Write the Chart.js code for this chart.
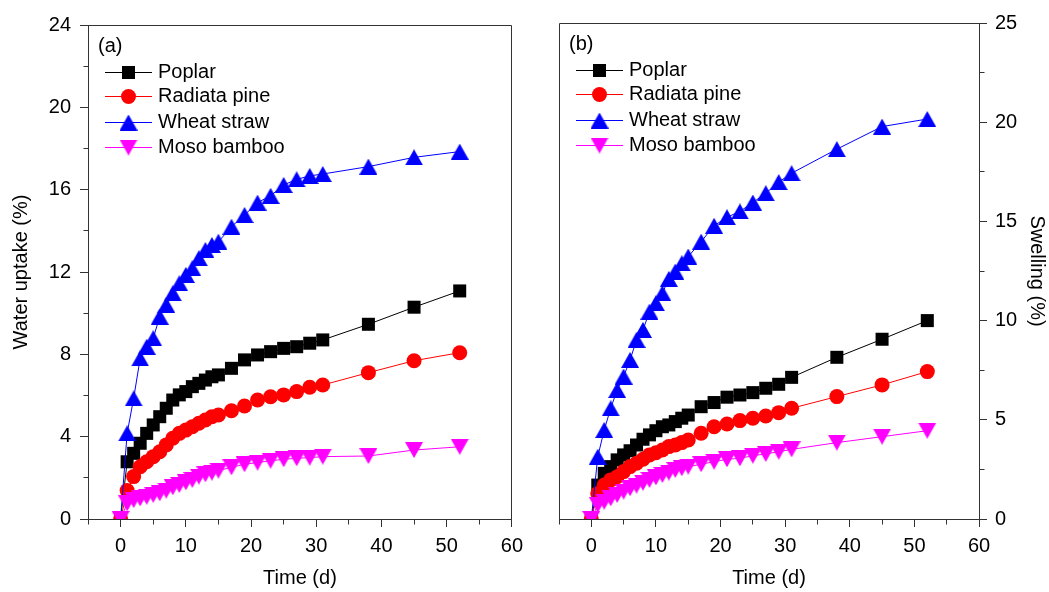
<!DOCTYPE html>
<html><head><meta charset="utf-8">
<script src="https://cdn.jsdelivr.net/npm/chart.js@4.4.1/dist/chart.umd.min.js"></script>
<style>
html,body{margin:0;padding:0;background:#fff;width:1049px;height:592px;overflow:hidden}
canvas{position:absolute;top:0}
#ca{left:0}
#cb{left:530px}
</style></head><body>
<canvas id="ca" width="530" height="592"></canvas>
<canvas id="cb" width="519" height="592"></canvas>
<script>
// ---------- data ----------
const timeDays = [0,1,2,3,4,5,6,7,8,9,10,11,12,13,14,15,17,19,21,23,25,27,29,31,38,45,52];
const seriesNames = ['Poplar','Radiata pine','Wheat straw','Moso bamboo'];

// (a) Water uptake (%)
const uptakePoplar = [0,2.78,3.19,3.68,4.16,4.57,4.97,5.38,5.78,6.03,6.19,6.43,6.59,6.75,6.91,7.0,7.32,7.73,7.97,8.13,8.29,8.37,8.54,8.70,9.46,10.29,11.08];
const uptakeRadiata = [0,1.38,2.06,2.54,2.78,3.03,3.27,3.6,3.92,4.16,4.32,4.48,4.65,4.81,4.97,5.05,5.26,5.49,5.78,5.94,6.03,6.19,6.4,6.51,7.11,7.69,8.08];
const uptakeWheat = [0,4.16,5.86,7.8,8.37,8.78,9.83,10.4,10.97,11.45,11.86,12.18,12.67,13.07,13.31,13.47,14.2,14.77,15.37,15.7,16.23,16.5,16.67,16.76,17.12,17.57,17.85];
const uptakeMoso = [0,0.76,0.92,1.0,1.08,1.17,1.25,1.38,1.54,1.65,1.78,1.9,2.06,2.17,2.25,2.35,2.51,2.66,2.74,2.83,2.9,2.95,2.98,3.03,3.06,3.35,3.51];

// (b) Swelling (%)
const swellPoplar = [0,1.71,2.3,2.64,2.98,3.23,3.44,3.73,4.02,4.24,4.45,4.65,4.74,4.91,5.08,5.24,5.66,5.87,6.14,6.25,6.37,6.59,6.79,7.14,8.15,9.06,10.0];
const swellRadiata = [0,1.29,1.71,1.97,2.13,2.39,2.64,2.81,3.01,3.23,3.34,3.48,3.65,3.73,3.85,3.98,4.32,4.65,4.79,4.96,5.08,5.19,5.36,5.58,6.17,6.76,7.43];
const swellWheat = [0,3.14,4.49,5.58,6.5,7.18,8.02,9.03,9.53,10.45,10.88,11.38,12.1,12.47,12.89,13.23,13.98,14.78,15.21,15.5,15.95,16.42,16.98,17.43,18.64,19.78,20.16];
const swellMoso = [0,0.71,0.87,1.04,1.21,1.38,1.55,1.68,1.83,1.97,2.1,2.22,2.34,2.47,2.56,2.64,2.76,2.89,3.01,3.06,3.19,3.28,3.39,3.51,3.85,4.15,4.45];

// ticks
const xTickValues = [0,10,20,30,40,50,60];
const xMinorTicks = [-5,5,15,25,35,45,55];
const uptakeTicks = [0,4,8,12,16,20,24];
const uptakeMinor = [2,6,10,14,18,22];
const swellTicks = [0,5,10,15,20,25];
const swellMinor = [2.5,7.5,12.5,17.5,22.5];

// ---------- styling ----------
const FONT = {family: '"Liberation Sans", Arial, Helvetica, sans-serif', size: 20};
const AXIS = '#333333';
const COLORS = ['#000000','#ff0000','#0000ff','#ff00ff'];

function triCanvas(color, down) {
  const c = document.createElement('canvas'); c.width = 18; c.height = 16;
  const g = c.getContext('2d'); g.fillStyle = color; g.beginPath();
  if (!down) { g.moveTo(0,16); g.lineTo(9,0); g.lineTo(18,16); }
  else { g.moveTo(0,0); g.lineTo(18,0); g.lineTo(9,16); }
  g.closePath(); g.fill(); return c;
}
const STYLES = [
  {pointStyle: 'rect', radius: 9.2},
  {pointStyle: 'circle', radius: 7.5},
  {pointStyle: triCanvas(COLORS[2], false), radius: 9},
  {pointStyle: triCanvas(COLORS[3], true), radius: 9}
];

function makeDatasets(arrs) {
  return arrs.map((arr, i) => ({
    label: seriesNames[i],
    data: timeDays.map((t, k) => ({x: t, y: arr[k]})),
    borderColor: COLORS[i],
    backgroundColor: COLORS[i],
    borderWidth: 1,
    pointStyle: STYLES[i].pointStyle,
    pointRadius: STYLES[i].radius,
    pointHoverRadius: STYLES[i].radius,
    pointBackgroundColor: COLORS[i],
    pointBorderWidth: 0,
    tension: 0,
    clip: 0,
    order: 4 - i
  }));
}

function align(p) { return Math.round(p - 0.5) + 0.5; }

const framePlugin = {
  id: 'frame',
  afterDraw(chart, args, opts) {
    const {ctx, chartArea: a, scales} = chart;
    const L = align(a.left), R = align(a.right), T = align(a.top), B = align(a.bottom);
    ctx.save();
    ctx.strokeStyle = AXIS; ctx.lineWidth = 1;
    ctx.beginPath();
    ctx.moveTo(L, T); ctx.lineTo(R, T);
    if (opts.side === 'left') { ctx.moveTo(R, T); ctx.lineTo(R, B); }
    else { ctx.moveTo(L, T); ctx.lineTo(L, B); }
    // minor ticks x
    xMinorTicks.forEach(v => {
      const px = align(scales.x.getPixelForValue(v));
      ctx.moveTo(px, B); ctx.lineTo(px, B + 5);
    });
    opts.yMinor.forEach(v => {
      const py = align(scales.y.getPixelForValue(v));
      if (opts.side === 'left') { ctx.moveTo(L - 5, py); ctx.lineTo(L, py); }
      else { ctx.moveTo(R, py); ctx.lineTo(R + 5, py); }
    });
    ctx.stroke();
    ctx.restore();
  }
};

const legendPlugin = {
  id: 'panelLegend',
  afterDraw(chart, args, opts) {
    const {ctx, chartArea: a} = chart;
    ctx.save();
    ctx.font = `${FONT.size}px ${FONT.family}`;
    ctx.textBaseline = 'middle';
    ctx.textAlign = 'left';
    ctx.fillStyle = '#000';
    ctx.fillText(opts.label, a.left + 10, a.top + 21);
    const rows = [46.5, 71, 96.5, 121.5];
    chart.data.datasets.forEach((ds, i) => {
      const y = Math.round(a.top + rows[i]);
      const x0 = a.left + 17, x1 = a.left + 64, xm = a.left + 40.5;
      ctx.strokeStyle = ds.borderColor; ctx.lineWidth = 1;
      ctx.beginPath(); ctx.moveTo(x0, y + 0.5); ctx.lineTo(x1, y + 0.5); ctx.stroke();
      ctx.fillStyle = ds.backgroundColor;
      const ps = ds.pointStyle;
      if (ps === 'rect') { ctx.fillRect(xm - 6.5, y + 0.5 - 6.5, 13, 13); }
      else if (ps === 'circle') { ctx.beginPath(); ctx.arc(xm, y + 0.5, 7.5, 0, Math.PI * 2); ctx.fill(); }
      else { ctx.drawImage(ps, xm - 9, y + 0.5 - 8); }
      ctx.fillStyle = '#000';
      ctx.fillText(ds.label, a.left + 70, y + 0.5);
    });
    ctx.restore();
  }
};

function xScale() {
  return {
    type: 'linear', min: -5, max: 60,
    afterBuildTicks: s => { s.ticks = xTickValues.map(v => ({value: v})); },
    afterFit: s => { s.height = 73; },
    ticks: {font: FONT, color: '#000', padding: 7, maxRotation: 0, autoSkip: false},
    grid: {drawOnChartArea: false, tickLength: 8, color: AXIS},
    border: {color: AXIS, width: 1},
    title: {display: true, text: 'Time (d)', font: FONT, color: '#000', padding: {top: 0, bottom: 2}}
  };
}

function makeChart(id, arrs, yCfg, pluginOpts, padding) {
  return new Chart(document.getElementById(id), {
    type: 'line',
    data: {datasets: makeDatasets(arrs)},
    options: {
      responsive: false, animation: false, devicePixelRatio: 1,
      layout: {padding},
      scales: {x: xScale(), y: yCfg},
      plugins: {
        legend: {display: false}, tooltip: {enabled: false},
        frame: pluginOpts, panelLegend: {label: pluginOpts.label}
      }
    },
    plugins: [framePlugin, legendPlugin]
  });
}

makeChart('ca', [uptakePoplar, uptakeRadiata, uptakeWheat, uptakeMoso], {
  type: 'linear', position: 'left', min: 0, max: 24,
  afterBuildTicks: s => { s.ticks = uptakeTicks.map(v => ({value: v})); },
  afterFit: s => { s.width = 88; },
  ticks: {font: FONT, color: '#000', padding: 9},
  grid: {drawOnChartArea: false, tickLength: 8, color: AXIS},
  border: {color: AXIS, width: 1},
  title: {display: true, text: 'Water uptake (%)', font: FONT, color: '#000', padding: {top: 9, bottom: 0}}
}, {side: 'left', yMinor: uptakeMinor, label: '(a)'}, {left: 0, top: 25, right: 12, bottom: 0});

makeChart('cb', [swellPoplar, swellRadiata, swellWheat, swellMoso], {
  type: 'linear', position: 'right', min: 0, max: 25,
  afterBuildTicks: s => { s.ticks = swellTicks.map(v => ({value: v})); },
  afterFit: s => { s.width = 70; },
  ticks: {font: FONT, color: '#000', padding: 8},
  grid: {drawOnChartArea: false, tickLength: 8, color: AXIS},
  border: {color: AXIS, width: 1},
  title: {display: true, text: 'Swelling (%)', font: FONT, color: '#000', padding: {top: 0, bottom: 0}}
}, {side: 'right', yMinor: swellMinor, label: '(b)'}, {left: 29, top: 23, right: 0, bottom: 0});
</script>
</body></html>
